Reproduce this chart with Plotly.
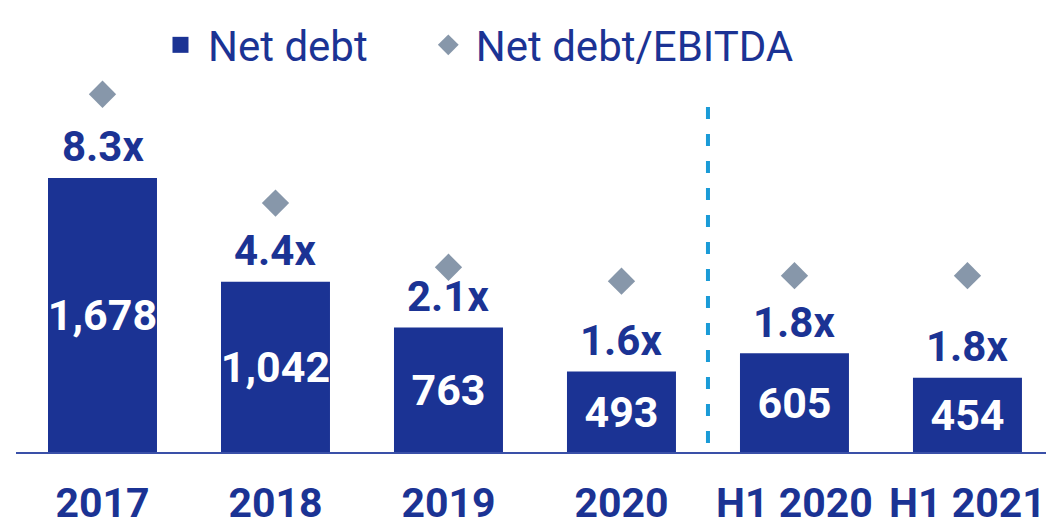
import plotly.graph_objects as go

categories = ["2017", "2018", "2019", "2020", "H1 2020", "H1 2021"]
net_debt = [1678, 1042, 763, 493, 605, 454]
net_debt_labels = ["1,678", "1,042", "763", "493", "605", "454"]
ratio = [8.3, 4.4, 2.1, 1.6, 1.8, 1.8]
ratio_labels = ["8.3x", "4.4x", "2.1x", "1.6x", "1.8x", "1.8x"]

NAVY = "#1B3394"
GREY = "#8797AA"
CYAN = "#1A9BD7"
FONT = "Roboto"

fig = go.Figure()

fig.add_trace(go.Bar(
    x=categories, y=net_debt, name="Net debt",
    marker=dict(color=NAVY, line=dict(width=0)),
    width=0.63,
    text=net_debt_labels, textposition="inside", insidetextanchor="middle",
    textangle=0, constraintext="none",
    textfont=dict(family=FONT, size=43, color="white", weight="bold"),
    showlegend=False,
))
# legend proxy for bars
fig.add_trace(go.Scatter(
    x=[None], y=[None], mode="markers", name="Net debt",
    marker=dict(symbol="square", size=16, color=NAVY), legend="legend",
))
fig.add_trace(go.Scatter(
    x=categories, y=ratio, yaxis="y2", mode="markers", name="Net debt/EBITDA",
    marker=dict(symbol="diamond", size=21, color=GREY), legend="legend2",
))

for i, (v, t) in enumerate(zip(net_debt, ratio_labels)):
    fig.add_annotation(x=i, y=v, text=t, showarrow=False, yanchor="middle",
                       yshift=31, font=dict(family=FONT, size=42, color=NAVY, weight="bold"))

fig.add_shape(type="line", xref="x", yref="y", x0=3.5, x1=3.5, y0=-110, y1=2113,
              line=dict(color=CYAN, width=4, dash="12px,15px"))

legend_common = dict(orientation="h", xanchor="left", yanchor="middle", y=1.094,
                     font=dict(family=FONT, size=42, color=NAVY),
                     itemwidth=45, bgcolor="rgba(0,0,0,0)")

fig.update_layout(
    width=1046, height=523,
    margin=dict(l=16, r=0, t=80, b=71),
    plot_bgcolor="white", paper_bgcolor="white",
    font=dict(family=FONT, color=NAVY),
    xaxis=dict(type="category", range=[-0.5, 5.454], showgrid=False, zeroline=False,
               showline=True, linecolor="#3A50A8", linewidth=2, automargin=False,
               ticks="", ticklabelstandoff=14,
               tickfont=dict(family=FONT, size=41, color=NAVY, weight="bold")),
    yaxis=dict(range=[0, 2278], visible=False, showgrid=False, zeroline=False),
    yaxis2=dict(range=[-4.52, 8.81], overlaying="y", visible=False,
                showgrid=False, zeroline=False),
    legend=dict(x=0.133, **legend_common),
    legend2=dict(x=0.393, **legend_common),
    showlegend=True,
)

fig.write_html("out.html", config={"displayModeBar": False},
               post_script="document.body.style.margin='0';")
